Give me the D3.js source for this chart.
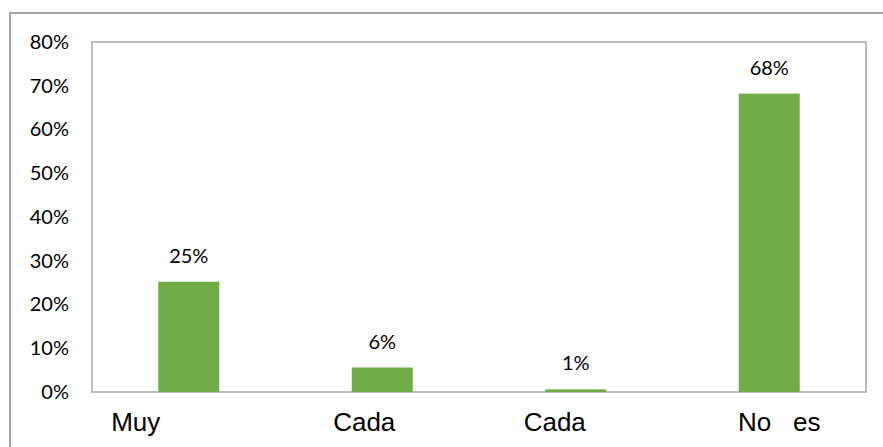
<!DOCTYPE html>
<html>
<head>
<meta charset="utf-8">
<script src="https://cdn.jsdelivr.net/npm/d3@7"></script>
<style>
  body { margin: 0; background: #fff; }
  svg { display: block; }
</style>
</head>
<body>
<script>
// data
var categories = ["Muy", "Cada", "Cada ", "No   es"];
var values = [0.252, 0.056, 0.006, 0.682];
var valueLabels = ["25%", "6%", "1%", "68%"];
var yTicks = [0, 0.1, 0.2, 0.3, 0.4, 0.5, 0.6, 0.7, 0.8];

var W = 883, H = 447;
var margin = {top: 42, right: 17, bottom: 55, left: 92};
var width = W - margin.left - margin.right,
    height = H - margin.top - margin.bottom;

// category labels are not centred under the bars in the original
var labelShift = [-53, -18, -21, 10];

var svg = d3.select("body").append("svg")
    .attr("width", W)
    .attr("height", H);

// outer chart frame, runs off the right and bottom edges
svg.append("rect")
    .attr("x", 10).attr("y", 13)
    .attr("width", W + 20).attr("height", H + 20)
    .attr("fill", "none")
    .attr("stroke", "#a6a6a6")
    .attr("stroke-width", 2);

var g = svg.append("g")
    .attr("transform", "translate(" + margin.left + "," + margin.top + ")");

var x = d3.scaleBand()
    .domain(categories)
    .range([0, width])
    .paddingInner(0.685)
    .paddingOuter(0.3425);

var y = d3.scaleLinear()
    .domain([0, 0.8])
    .range([height, 0]);

// plot area border
g.append("rect")
    .attr("x", 0).attr("y", 0)
    .attr("width", width).attr("height", height)
    .attr("fill", "none")
    .attr("stroke", "#a6a6a6")
    .attr("stroke-width", 1.5);

// y axis labels
var yAxis = g.append("g")
    .attr("class", "y axis")
    .call(d3.axisLeft(y).tickValues(yTicks).tickFormat(d3.format(".0%")).tickSize(0).tickPadding(23));
yAxis.select(".domain").remove();
yAxis.selectAll("text")
    .attr("font-family", "Lato, 'Noto Sans', sans-serif")
    .attr("font-size", 20)
    .attr("fill", "#000");

// bars
g.selectAll(".bar")
    .data(values)
  .enter().append("rect")
    .attr("class", "bar")
    .attr("x", function(d, i) { return x(categories[i]); })
    .attr("y", function(d) { return y(d); })
    .attr("width", x.bandwidth())
    .attr("height", function(d) { return height - y(d); })
    .attr("fill", "#70ad47");

// value labels
g.selectAll(".val")
    .data(values)
  .enter().append("text")
    .attr("class", "val")
    .attr("x", function(d, i) { return x(categories[i]) + x.bandwidth() / 2; })
    .attr("y", function(d) { return y(d) - 19; })
    .attr("text-anchor", "middle")
    .attr("font-family", "Lato, 'Noto Sans', sans-serif")
    .attr("font-size", 20)
    .attr("fill", "#000")
    .text(function(d, i) { return valueLabels[i]; });

// category labels
g.selectAll(".cat")
    .data(categories)
  .enter().append("text")
    .attr("class", "cat")
    .attr("x", function(d, i) { return x(d) + x.bandwidth() / 2 + labelShift[i]; })
    .attr("y", height + 39)
    .attr("text-anchor", "middle")
    .attr("font-family", "'Liberation Sans', Arial, sans-serif")
    .attr("font-size", 26)
    .attr("fill", "#000")
    .style("white-space", "pre")
    .text(function(d) { return d === "No   es" ? d : d.trim(); });
</script>
</body>
</html>
